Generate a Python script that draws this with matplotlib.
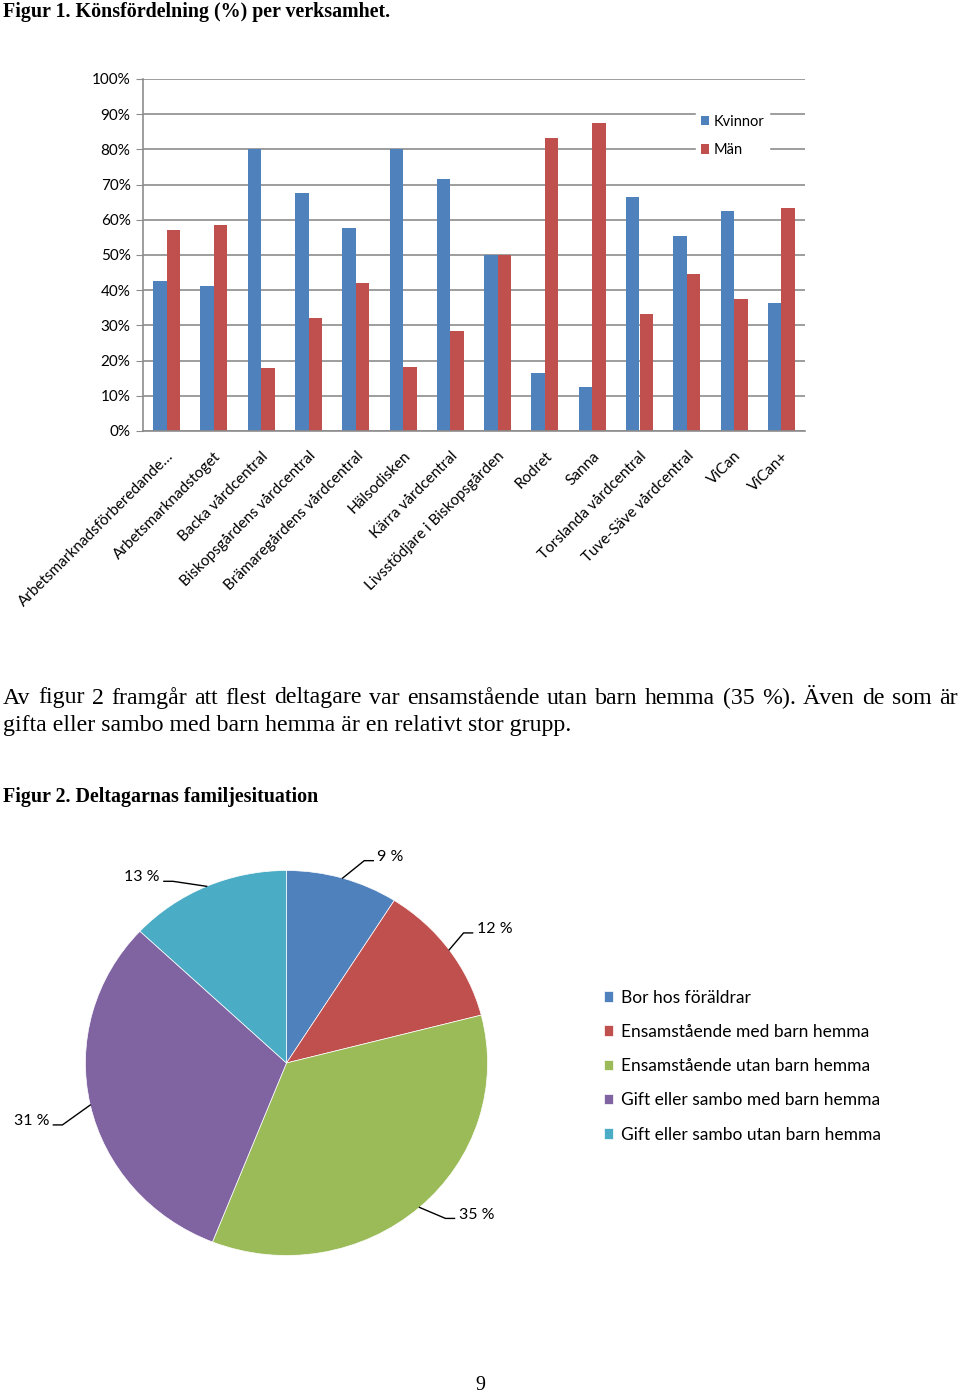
import matplotlib.pyplot as plt
import numpy as np

W, H = 960, 1395

# bar chart data (percent)
categories = ['Arbetsmarknadsförberedande…', 'Arbetsmarknadstoget', 'Backa vårdcentral',
              'Biskopsgårdens vårdcentral', 'Brämaregårdens vårdcentral', 'Hälsodisken',
              'Kärra vårdcentral', 'Livsstödjare i Biskopsgården', 'Rodret', 'Sanna',
              'Torslanda vårdcentral', 'Tuve-Säve vårdcentral', 'ViCan', 'ViCan+']
kvinnor = [42.7, 41.3, 80.0, 67.7, 57.8, 80.0, 71.5, 50.0, 16.4, 12.5, 66.6, 55.4, 62.4, 36.4]
man = [57.2, 58.5, 17.8, 32.1, 42.0, 18.1, 28.4, 50.0, 83.1, 87.4, 33.2, 44.5, 37.5, 63.4]
bar_series = ['Kvinnor', 'Män']

# pie chart data (percent)
family_labels = ['Bor hos föräldrar', 'Ensamstående med barn hemma', 'Ensamstående utan barn hemma',
                 'Gift eller sambo med barn hemma', 'Gift eller sambo utan barn hemma']
family_share = [9, 12, 35, 31, 13]

blue, red = '#4F81BD', '#C0504D'
pie_colors = ['#4F81BD', '#C0504D', '#9BBB59', '#8064A2', '#4BACC6']
grid_gray = '#8C8C8C'
sans = 'Lato'
serif = 'Liberation Serif'

# leader line tweaks for the pie labels (angle nudge in degrees, elbow radius)
label_nudge = [-4, 1.5, 3, 3.5, 7.5]
label_radius = [1.12, 1.11, 1.13, 1.16, 1.10]


def fx(px):
    return px / W


def fy(py):
    return 1 - py / H


fig = plt.figure(figsize=(W / 100, H / 100), dpi=100)

# page text
fig.text(fx(3), fy(12), 'Figur 1. Könsfördelning (%) per verksamhet.', family=serif,
         weight='bold', fontsize=14.4, va='center')
fig.text(fx(3), fy(797), 'Figur 2. Deltagarnas familjesituation', family=serif,
         weight='bold', fontsize=14.4, va='center')
fig.text(fx(480), fy(1385), '9', family=serif, fontsize=14.5, ha='center', va='center')


def justified(line, y, x0, x1, **kw):
    words = line.split()
    texts = [fig.text(0, fy(y), w, va='center', **kw) for w in words]
    r = fig.canvas.get_renderer()
    widths = [t.get_window_extent(r).width for t in texts]
    gap = (x1 - x0 - sum(widths)) / (len(words) - 1)
    x = x0
    for t, wd in zip(texts, widths):
        t.set_x(fx(x))
        x += wd + gap


justified('Av figur 2 framgår att flest deltagare var ensamstående utan barn hemma (35 %). Även de som är',
          698, 3, 958, family=serif, fontsize=17.2)
fig.text(fx(3), fy(726), 'gifta eller sambo med barn hemma är en relativt stor grupp.',
         family=serif, fontsize=17.2, va='center')

# bar chart
ax = fig.add_axes([fx(143), fy(431), 662 / W, 352 / H])
x = np.arange(len(categories))
w = 0.285
ax.bar(x - w / 2, np.array(kvinnor) / 100, w, color=blue, label=bar_series[0])
ax.bar(x + w / 2, np.array(man) / 100, w, color=red, label=bar_series[1])
ax.set_xlim(-0.5, len(categories) - 0.5)
ax.set_ylim(0, 1)
ax.set_yticks(np.arange(0, 1.01, 0.1))
ax.set_yticklabels([f'{int(round(v * 100))}%' for v in np.arange(0, 1.01, 0.1)],
                   family=sans, fontsize=11)
ax.set_xticks(x)
ax.set_xticklabels(categories, rotation=45, ha='right', rotation_mode='anchor',
                   family=sans, fontsize=11)
ax.tick_params(axis='x', length=0, pad=13)
ax.tick_params(axis='y', length=5, color=grid_gray, pad=4)
ax.yaxis.grid(True, color=grid_gray, lw=1.2)
ax.set_axisbelow(True)
for s in ['top', 'right']:
    ax.spines[s].set_visible(False)
for s in ['left', 'bottom']:
    ax.spines[s].set_color(grid_gray)
    ax.spines[s].set_linewidth(1.2)
ax.legend(loc='upper left', bbox_to_anchor=(fx(689), fy(103)), bbox_transform=fig.transFigure,
          frameon=True, fancybox=False, edgecolor='white', facecolor='white', framealpha=1,
          prop={'family': sans, 'size': 10.5}, handlelength=0.6, handleheight=0.6,
          handletextpad=0.3, labelspacing=1.0, borderpad=0.3)

# pie chart (slightly wider than tall, as in the source)
ax2 = fig.add_axes([fx(5), fy(1332.5), 563 / W, 539 / H])
wedges, _ = ax2.pie(family_share, colors=pie_colors, startangle=90, counterclock=False,
                    wedgeprops=dict(edgecolor='white', linewidth=0.5))
ax2.set_aspect('auto')
ax2.set_xlim(-1.4, 1.4)
ax2.set_ylim(-1.4, 1.4)
for wdg, v, nd, rr in zip(wedges, family_share, label_nudge, label_radius):
    mid = np.deg2rad((wdg.theta1 + wdg.theta2) / 2)
    ex, ey = np.cos(mid), np.sin(mid)
    ang = mid + np.deg2rad(nd)
    kx, ky = rr * np.cos(ang), rr * np.sin(ang)
    sgn = 1 if ex >= 0 else -1
    lx = kx + sgn * 0.045
    ax2.plot([ex, kx, lx], [ey, ky, ky], color='black', lw=1)
    ax2.text(lx + sgn * 0.02, ky + 0.02, f'{v} %', family=sans, fontsize=11.5,
             ha='left' if sgn > 0 else 'right', va='center')
ax2.legend(wedges, family_labels, loc='upper left', bbox_to_anchor=(fx(588), fy(974)),
           bbox_transform=fig.transFigure, frameon=False, prop={'family': sans, 'size': 12.5},
           handlelength=0.55, handleheight=0.55, handletextpad=0.45, labelspacing=1.05)

fig.savefig('out.png', dpi=100)
